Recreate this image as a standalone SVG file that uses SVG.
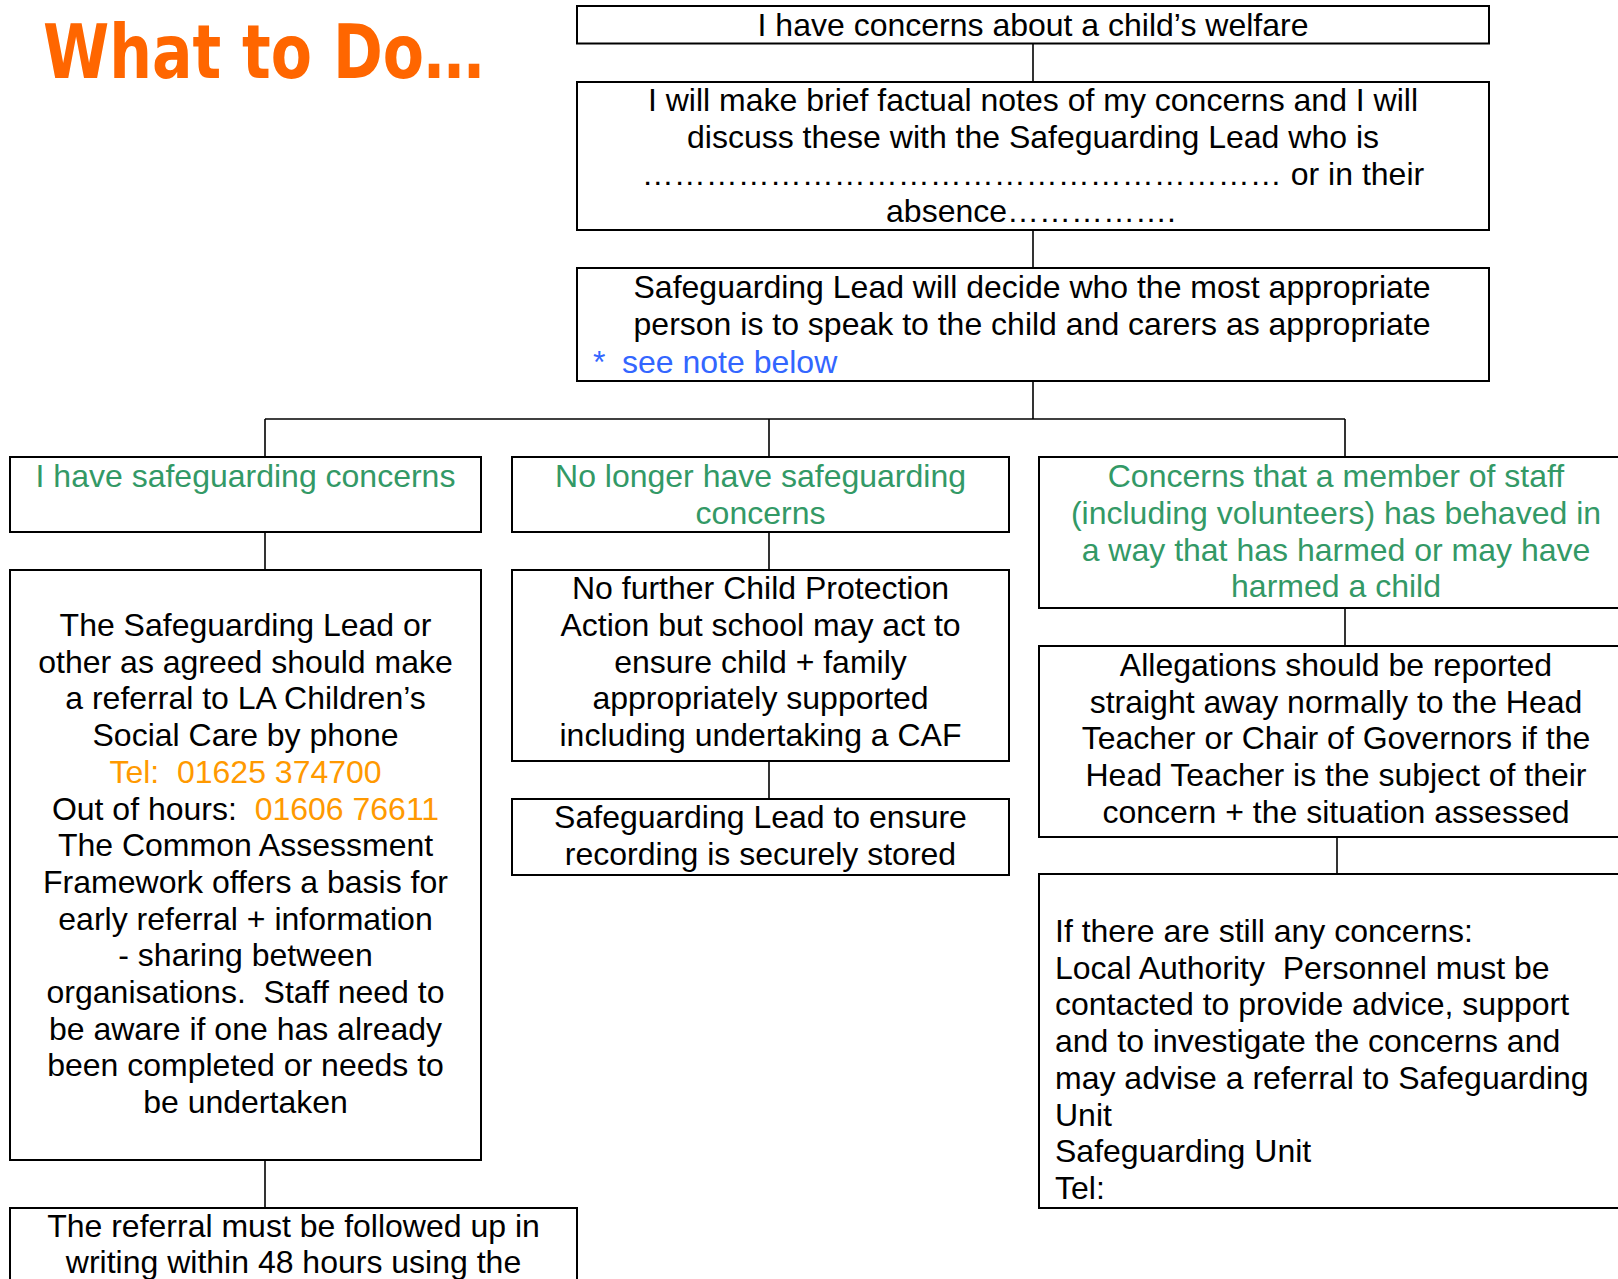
<svg xmlns="http://www.w3.org/2000/svg" width="1618" height="1279" viewBox="0 0 1618 1279">
<style>
.box{fill:#fff;stroke:#000;stroke-width:2}
.t{font-family:"Liberation Sans",Arial,sans-serif;font-size:32px;fill:#000}
.c{text-anchor:middle}
.g{fill:#339966}
.o{fill:#FF9900}
.b{fill:#3366FF}
.conn line{stroke:#000;stroke-width:1.6}
.title{font-family:"DejaVu Sans",sans-serif;font-weight:bold;font-size:75px;fill:#FF6600}
</style>
<rect width="1618" height="1279" fill="#fff"/>
<text class="title" x="43" y="78" textLength="441" lengthAdjust="spacingAndGlyphs">What to Do…</text>

<g id="connectors" class="conn">
<line x1="1033" y1="43.5" x2="1033" y2="82"/>
<line x1="1033" y1="230" x2="1033" y2="268"/>
<line x1="1033" y1="381" x2="1033" y2="419"/>
<line x1="265" y1="419" x2="1345" y2="419"/>
<line x1="265" y1="419" x2="265" y2="457"/>
<line x1="769" y1="419" x2="769" y2="457"/>
<line x1="1345" y1="419" x2="1345" y2="457"/>
<line x1="265" y1="532" x2="265" y2="570"/>
<line x1="769" y1="532" x2="769" y2="570"/>
<line x1="1345" y1="608" x2="1345" y2="646"/>
<line x1="769" y1="761" x2="769" y2="799"/>
<line x1="1337" y1="837" x2="1337" y2="874"/>
<line x1="265" y1="1160" x2="265" y2="1208"/>
</g>

<g id="welfare">
<rect class="box" x="577" y="6" width="912" height="37.5"/>
<text class="t c" x="1033" y="36">I have concerns about a child’s welfare</text>
</g>

<g id="notes">
<rect class="box" x="577" y="82" width="912" height="148"/>
<text class="t c" x="1033" y="111">I will make brief factual notes of my concerns and I will</text>
<text class="t c" x="1033" y="148">discuss these with the Safeguarding Lead who is</text>
<text class="t c" x="1033" y="185.2">…………………………………………………… or in their</text>
<text class="t c" x="1031" y="222.4">absence…………….</text>
</g>

<g id="decide">
<rect class="box" x="577" y="268" width="912" height="113"/>
<text class="t c" x="1032" y="298">Safeguarding Lead will decide who the most appropriate</text>
<text class="t c" x="1032" y="335">person is to speak to the child and carers as appropriate</text>
<text class="t b" x="593" y="372.5">*</text>
<text class="t b" x="622" y="372.5">see note below</text>
</g>

<g id="have-concerns">
<rect class="box" x="10" y="457" width="471" height="75"/>
<text class="t c g" x="245.5" y="487.3">I have safeguarding concerns</text>
</g>

<g id="no-longer">
<rect class="box" x="512" y="457" width="497" height="75"/>
<text class="t c g" x="760.5" y="487.3">No longer have safeguarding</text>
<text class="t c g" x="760.5" y="524">concerns</text>
</g>

<g id="staff-concerns">
<rect class="box" x="1039" y="457" width="600" height="151"/>
<text class="t c g" x="1336" y="487.3">Concerns that a member of staff</text>
<text class="t c g" x="1336" y="524">(including volunteers) has behaved in</text>
<text class="t c g" x="1336" y="560.7">a way that has harmed or may have</text>
<text class="t c g" x="1336" y="597.4">harmed a child</text>
</g>

<g id="referral">
<rect class="box" x="10" y="570" width="471" height="590"/>
<text class="t c" x="245.5" y="636">The Safeguarding Lead or</text>
<text class="t c" x="245.5" y="672.7">other as agreed should make</text>
<text class="t c" x="245.5" y="709.4">a referral to LA Children’s</text>
<text class="t c" x="245.5" y="746.1">Social Care by phone</text>
<text class="t c o" x="245.5" y="782.8" xml:space="preserve">Tel:  01625 374700</text>
<text class="t c" x="245.5" y="819.5" xml:space="preserve">Out of hours:  <tspan class="o">01606 76611</tspan></text>
<text class="t c" x="245.5" y="856.2">The Common Assessment</text>
<text class="t c" x="245.5" y="892.9">Framework offers a basis for</text>
<text class="t c" x="245.5" y="929.6">early referral + information</text>
<text class="t c" x="245.5" y="966.3">- sharing between</text>
<text class="t c" x="245.5" y="1003" xml:space="preserve">organisations.  Staff need to</text>
<text class="t c" x="245.5" y="1039.7">be aware if one has already</text>
<text class="t c" x="245.5" y="1076.4">been completed or needs to</text>
<text class="t c" x="245.5" y="1113.1">be undertaken</text>
</g>

<g id="no-further">
<rect class="box" x="512" y="570" width="497" height="191"/>
<text class="t c" x="760.5" y="599.3">No further Child Protection</text>
<text class="t c" x="760.5" y="636">Action but school may act to</text>
<text class="t c" x="760.5" y="672.7">ensure child + family</text>
<text class="t c" x="760.5" y="709.4">appropriately supported</text>
<text class="t c" x="760.5" y="746.1">including undertaking a CAF</text>
</g>

<g id="allegations">
<rect class="box" x="1039" y="646" width="600" height="191"/>
<text class="t c" x="1336" y="676">Allegations should be reported</text>
<text class="t c" x="1336" y="712.7">straight away normally to the Head</text>
<text class="t c" x="1336" y="749.4">Teacher or Chair of Governors if the</text>
<text class="t c" x="1336" y="786.1">Head Teacher is the subject of their</text>
<text class="t c" x="1336" y="822.8">concern + the situation assessed</text>
</g>

<g id="recording">
<rect class="box" x="512" y="799" width="497" height="76"/>
<text class="t c" x="760.5" y="828.3">Safeguarding Lead to ensure</text>
<text class="t c" x="760.5" y="865">recording is securely stored</text>
</g>

<g id="la-personnel">
<rect class="box" x="1039" y="874" width="600" height="334"/>
<text class="t" x="1055" y="942" xml:space="preserve">If there are still any concerns:</text>
<text class="t" x="1055" y="978.7" xml:space="preserve">Local Authority  Personnel must be</text>
<text class="t" x="1055" y="1015.4">contacted to provide advice, support</text>
<text class="t" x="1055" y="1052.1">and to investigate the concerns and</text>
<text class="t" x="1055" y="1088.8">may advise a referral to Safeguarding</text>
<text class="t" x="1055" y="1125.5">Unit</text>
<text class="t" x="1055" y="1162.2">Safeguarding Unit</text>
<text class="t" x="1055" y="1198.9">Tel:</text>
</g>

<g id="follow-up">
<rect class="box" x="10" y="1208" width="567" height="100"/>
<text class="t c" x="293.5" y="1236.7">The referral must be followed up in</text>
<text class="t c" x="293.5" y="1273.4">writing within 48 hours using the</text>
</g>
</svg>
